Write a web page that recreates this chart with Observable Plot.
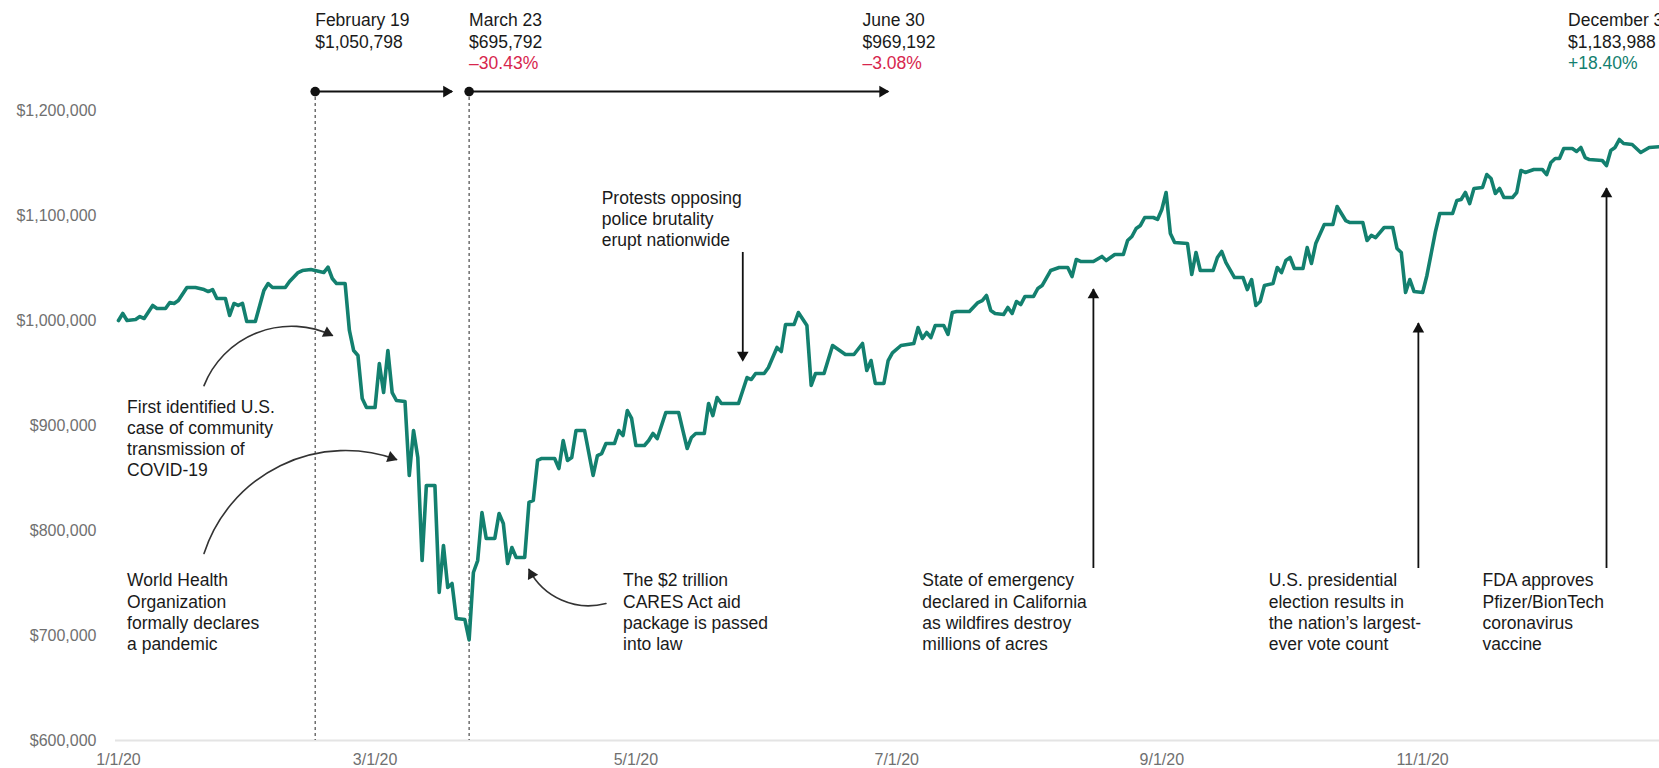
<!DOCTYPE html>
<html>
<head>
<meta charset="utf-8">
<script src="https://cdn.jsdelivr.net/npm/d3@7"></script>
<script src="https://cdn.jsdelivr.net/npm/@observablehq/plot@0.6"></script>
<style>
  html, body { margin: 0; padding: 0; background: #fff; overflow: hidden; }
</style>
</head>
<body>
<div id="chart"></div>
<script>
// ---- Portfolio value, 2020 (day of month, value in $) ----
const jan = [[1,1000000],[2,1006700],[3,1000000],[5,1001000],[6,1003800],[7,1001900],[9,1014300],[10,1011400],[12,1011400],[13,1017100],[14,1016200],[15,1019000],[17,1031400],[19,1031400],[21,1029500],[22,1027600],[23,1029500],[24,1021000],[26,1021000],[27,1004800],[28,1016200],[29,1014300],[30,1016200],[31,999000]];
const feb = [[2,999000],[4,1028600],[5,1035200],[6,1031400],[9,1031400],[10,1037100],[12,1045700],[13,1047600],[15,1048500],[18,1045700],[19,1050798],[20,1040000],[21,1035200],[23,1035200],[24,990500],[25,971400],[26,966700],[27,925700],[28,917100]];
const mar = [[1,917100],[2,959000],[3,931400],[4,971400],[5,931400],[6,923800],[8,922900],[9,852400],[10,895200],[11,869500],[12,771400],[13,842900],[15,842900],[16,741000],[17,785700],[18,745700],[19,749500],[20,716200],[22,715200],[23,695792],[24,760000],[25,771400],[26,817100],[27,792400],[29,792400],[30,816200],[31,806700]];
const apr = [[1,768600],[2,783800],[3,774300],[5,774300],[6,826700],[7,828600],[8,866700],[9,868600],[12,868600],[13,859000],[14,885700],[15,866700],[16,869500],[17,895200],[19,895200],[21,852400],[22,871400],[23,873300],[24,882900],[26,882900],[27,895200],[28,890500],[29,914300],[30,906700]];
const may = [[1,881000],[3,881000],[4,885700],[5,892400],[6,887600],[8,912400],[11,912400],[12,895200],[13,878100],[14,888600],[15,892400],[17,892400],[18,921000],[19,909500],[20,926700],[21,921000],[25,921000],[27,945700],[28,943800],[29,949500],[31,949500]];
const jun = [[1,955200],[3,974300],[4,970500],[5,996200],[7,996200],[8,1007600],[10,995200],[11,938100],[12,949500],[14,949500],[16,976200],[17,973300],[19,967600],[21,967600],[23,978100],[24,952400],[25,961900],[26,940000],[28,940000],[29,961900],[30,969192]];
const jul = [[2,976200],[5,978100],[6,993300],[7,982900],[8,988600],[9,983800],[10,995200],[12,995200],[13,986700],[14,1007600],[15,1008600],[18,1008600],[20,1017100],[21,1019000],[22,1023800],[23,1009500],[24,1006700],[26,1005700],[27,1012400],[28,1006700],[29,1018100],[30,1015200],[31,1022900]];
const aug = [[2,1022900],[3,1030500],[4,1033300],[6,1047600],[8,1050500],[10,1050500],[11,1041900],[12,1058100],[13,1056200],[16,1056200],[18,1061000],[19,1057100],[21,1062900],[23,1062900],[24,1076200],[25,1080000],[26,1087600],[27,1090500],[28,1098100],[30,1098100],[31,1096200]];
const sep = [[1,1105700],[2,1121900],[3,1082900],[4,1074300],[7,1073300],[8,1043800],[9,1064800],[10,1047600],[13,1047600],[14,1060000],[15,1065700],[16,1055200],[18,1040900],[20,1040900],[21,1029500],[22,1039000],[23,1014300],[24,1018100],[25,1033300],[27,1035200],[28,1050500],[29,1045700],[30,1057100]];
const oct = [[1,1060000],[2,1049500],[4,1049500],[5,1069500],[6,1054300],[7,1073300],[9,1091400],[11,1091400],[12,1108600],[13,1101900],[14,1095200],[15,1093300],[18,1093300],[19,1076200],[20,1081000],[21,1079000],[23,1088600],[25,1088600],[26,1068600],[27,1064800],[28,1026700],[29,1039000],[30,1027600]];
const nov = [[1,1026700],[2,1042900],[3,1063800],[4,1084800],[5,1101900],[8,1101900],[9,1114300],[10,1115200],[11,1121900],[12,1111400],[13,1125700],[15,1126700],[16,1139000],[17,1135200],[18,1121000],[19,1125700],[20,1117100],[22,1117100],[23,1121900],[24,1142900],[25,1141000],[27,1143800],[29,1143800],[30,1139000]];
const dec = [[1,1150500],[2,1154300],[3,1154300],[4,1163800],[6,1163800],[7,1161000],[8,1164800],[9,1155200],[10,1153300],[13,1152400],[14,1147600],[15,1162000],[16,1164800],[17,1172400],[18,1168600],[20,1167600],[22,1160000],[24,1164800],[27,1165700],[31,1183988]];

// ---- Axis ticks ----
const yTicks = [600000, 700000, 800000, 900000, 1000000, 1100000, 1200000];
const xTicks = ["2020-01-01", "2020-03-01", "2020-05-01", "2020-07-01", "2020-09-01", "2020-11-01"];

// ---- Timeline milestones (top) ----
const milestoneLabels  = ["February 19", "March 23", "June 30", "December 31"];
const milestoneAmounts = ["$1,050,798", "$695,792", "$969,192", "$1,183,988"];
const milestoneChanges = ["", "–30.43%", "–3.08%", "+18.40%"];
const milestoneAnchors = ["2020-02-16", "2020-03-23", "2020-06-23", "2020-12-05"];
const timelineSpans = [{from: "2020-02-16", to: "2020-03-19"}, {from: "2020-03-23", to: "2020-06-29"}];

// ---- Event notes ----
const eventTexts = [
  "First identified U.S.\ncase of community\ntransmission of\nCOVID-19",
  "World Health\nOrganization\nformally declares\na pandemic",
  "The $2 trillion\nCARES Act aid\npackage is passed\ninto law",
  "Protests opposing\npolice brutality\nerupt nationwide",
  "State of emergency\ndeclared in California\nas wildfires destroy\nmillions of acres",
  "U.S. presidential\nelection results in\nthe nation\u2019s largest-\never vote count",
  "FDA approves\nPfizer/BionTech\ncoronavirus\nvaccine"
];
const eventAnchors = ["2020-01-03", "2020-01-03", "2020-04-28", "2020-04-23", "2020-07-07", "2020-09-26", "2020-11-15"];
const eventTops = [926000, 761000, 761000, 1125500, 761000, 761000, 761000];

const pointers = [
  {date: "2020-05-26", from: 1064800, to: 961900},
  {date: "2020-08-16", from: 763800, to: 1029500},
  {date: "2020-10-31", from: 763800, to: 997100},
  {date: "2020-12-14", from: 763800, to: 1125700}
];
const curvedPointers = [
  {x1: "2020-01-21", y1: 938000, x2: "2020-02-20", y2: 985700, bend: 47, rotate: 116},
  {x1: "2020-01-21", y1: 778100, x2: "2020-03-06", y2: 867600, bend: 46, rotate: 110},
  {x1: "2020-04-24", y1: 730500, x2: "2020-04-06", y2: 762900, bend: 39, rotate: -27.5}
];

// ---- Build ----
const utc = s => new Date(s + "T00:00:00Z");
const months = [jan, feb, mar, apr, may, jun, jul, aug, sep, oct, nov, dec];
const series = months.flatMap((m, i) => m.map(([day, v]) => ({date: new Date(Date.UTC(2020, i, day)), value: v})));

const milestones = milestoneLabels.map((label, i) => ({
  label, amount: milestoneAmounts[i], change: milestoneChanges[i], at: utc(milestoneAnchors[i])
}));
const events = eventTexts.map((text, i) => ({text, at: utc(eventAnchors[i]), top: eventTops[i]}));

const TEAL = "#13806f";
const RED = "#d7264d";
const INK = "#1a1a1a";
const rows = {label: 1280500, amount: 1260000, change: 1240000, arrow: 1218000};
const FONT = 17.5;

const headOffset = (rot, k = 5.5) => {
  const a = (rot - 90) * Math.PI / 180;
  return {dx: -k * Math.cos(a), dy: -k * Math.sin(a)};
};

const curvedMarks = curvedPointers.flatMap(c => {
  const o = headOffset(c.rotate);
  return [
    Plot.arrow([c], {x1: d => utc(d.x1), y1: "y1", x2: d => utc(d.x2), y2: "y2", bend: c.bend, headLength: 0, stroke: "#333", strokeWidth: 1.6}),
    Plot.dot([c], {x: d => utc(d.x2), y: "y2", symbol: "triangle", r: 4.3, fill: "#222", stroke: "none", rotate: c.rotate, dx: o.dx, dy: o.dy})
  ];
});

const upPointers = pointers.filter(p => p.to > p.from);
const downPointers = pointers.filter(p => p.to < p.from);

const chart = Plot.plot({
  width: 1659,
  height: 768,
  marginLeft: 115,
  marginRight: 0,
  marginTop: 0,
  marginBottom: 28,
  style: {fontFamily: '"Liberation Sans", Arial, Helvetica, sans-serif', background: "#fff", overflow: "hidden", fontSize: "16px"},
  x: {type: "utc", domain: [utc("2020-01-01"), utc("2020-12-31")], range: [118, 1678.7]},
  y: {domain: [600000, 1200000], range: [740, 110]},
  marks: [
    Plot.ruleY([600000], {stroke: "#e4e4e4", strokeWidth: 2}),
    Plot.axisY(yTicks, {anchor: "left", tickSize: 0, tickPadding: 19, tickFormat: d3.format("$,.0f"), fontSize: 16, color: "#707070", label: null}),
    Plot.axisX(xTicks.map(utc), {anchor: "bottom", tickSize: 0, tickPadding: 13.6, tickFormat: d3.utcFormat("%-m/%-d/%y"), fontSize: 16, color: "#707070", label: null}),

    // dashed verticals from the timeline
    Plot.ruleX(timelineSpans, {x: d => utc(d.from), y1: rows.arrow, y2: 600000, stroke: "#4a4a4a", strokeWidth: 1.2, strokeDasharray: "3,3"}),

    // the portfolio line
    Plot.line(series, {x: "date", y: "value", stroke: TEAL, strokeWidth: 3.6, strokeLinejoin: "round", strokeLinecap: "round"}),

    // timeline arrows
    Plot.link(timelineSpans, {x1: d => utc(d.from), x2: d => utc(d.to), y1: rows.arrow, y2: rows.arrow, stroke: "#111", strokeWidth: 2}),
    Plot.dot(timelineSpans, {x: d => utc(d.from), y: rows.arrow, r: 4.8, fill: "#111", stroke: "none"}),
    Plot.dot(timelineSpans, {x: d => utc(d.to), y: rows.arrow, symbol: "triangle", r: 4.3, rotate: 90, dx: -5.5, fill: "#111", stroke: "none"}),

    // milestone labels
    Plot.text(milestones, {x: "at", y: rows.label, text: "label", textAnchor: "start", lineAnchor: "bottom", fontSize: FONT, fill: INK}),
    Plot.text(milestones, {x: "at", y: rows.amount, text: "amount", textAnchor: "start", lineAnchor: "bottom", fontSize: FONT, fill: INK}),
    Plot.text(milestones.filter(d => d.change), {x: "at", y: rows.change, text: "change", textAnchor: "start", lineAnchor: "bottom", fontSize: FONT, fill: d => d.change.startsWith("+") ? TEAL : RED}),

    // straight event pointers
    Plot.ruleX(pointers, {x: d => utc(d.date), y1: "from", y2: "to", stroke: "#111", strokeWidth: 1.8}),
    Plot.dot(upPointers, {x: d => utc(d.date), y: "to", symbol: "triangle", r: 4.3, rotate: 0, dy: 5.5, fill: "#111", stroke: "none"}),
    Plot.dot(downPointers, {x: d => utc(d.date), y: "to", symbol: "triangle", r: 4.3, rotate: 180, dy: -5.5, fill: "#111", stroke: "none"}),

    // curved event pointers
    ...curvedMarks,

    // event notes
    Plot.text(events, {x: "at", y: "top", text: "text", textAnchor: "start", lineAnchor: "top", lineHeight: 1.206, fontSize: FONT, fill: INK})
  ]
});

document.getElementById("chart").appendChild(chart);
</script>
</body>
</html>
